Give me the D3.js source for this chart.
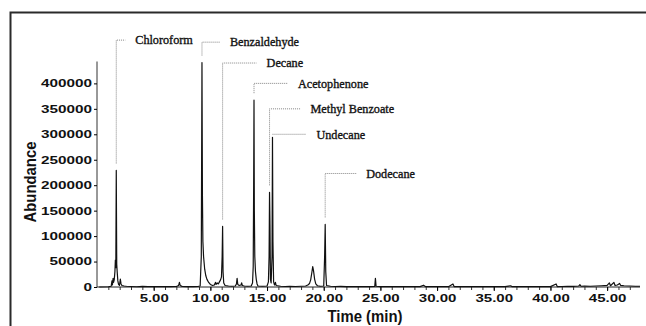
<!DOCTYPE html>
<html>
<head>
<meta charset="utf-8">
<script src="https://cdn.jsdelivr.net/npm/d3@7"></script>
<style>
  html, body { margin: 0; padding: 0; background: #fff; }
  svg { display: block; }
</style>
</head>
<body>
<svg id="chart" width="646" height="326"></svg>
<script>
// ---- Data ----
const times = [
  0.2, 1.0, 1.25, 1.32, 1.36, 1.42, 1.46, 1.52, 1.58, 1.62, 1.66, 1.70, 1.74, 1.78, 1.84, 1.90, 1.98, 2.06, 2.12, 2.2, 2.4, 2.6,
  3.0, 3.5, 4.0, 4.5, 5.0, 5.6, 6.0, 6.5, 7.0, 7.2, 7.27, 7.34, 7.5, 8.0, 8.5, 8.9, 9.1,
  9.2, 9.26, 9.30, 9.34, 9.4, 9.5, 9.6, 9.7, 9.85, 10.0, 10.2, 10.35, 10.45, 10.5, 10.6, 10.7, 10.8, 10.9, 10.98,
  11.04, 11.08, 11.12, 11.18, 11.3, 11.6, 11.9, 12.2, 12.3, 12.36, 12.42, 12.55, 12.7, 12.76, 12.82, 13.0, 13.3, 13.6,
  13.72, 13.78, 13.82, 13.85, 13.88, 13.92, 13.98, 14.05, 14.12, 14.2, 14.6, 15.0, 15.12, 15.18, 15.22, 15.26, 15.3,
  15.36, 15.44, 15.48, 15.52, 15.58, 15.66, 15.74, 15.8, 16.2, 16.6, 17.0, 17.5, 18.0, 18.4, 18.6, 18.75, 18.85, 18.95,
  19.03, 19.1, 19.2, 19.3, 19.45, 19.7, 20.0, 20.08, 20.13, 20.18, 20.25, 20.6, 21.0, 21.5, 22, 22.5, 23, 23.5, 24, 24.5,
  24.56, 24.62, 25.0, 25.5, 26, 26.5, 27, 27.5, 28, 28.5, 28.8, 29.0, 29.5, 30, 30.5, 31, 31.4, 31.5, 32, 32.5, 33, 33.5,
  34, 34.5, 35, 35.5, 36, 36.5, 36.6, 37, 37.5, 38, 38.5, 39, 39.5, 40, 40.5, 40.6, 41, 41.5, 42, 42.5, 42.6, 42.7, 43,
  43.5, 44, 44.5, 45, 45.2, 45.3, 45.6, 45.7, 45.9, 46.1, 46.2, 46.5, 47, 47.5, 47.9
];
const abundance = [
  0, 500, 1500, 12000, 4000, 17000, 9000, 14000, 30000, 53000, 38000, 229000, 45000, 30000, 12000, 5000, 3000, 15500, 6000, 3000, 2000, 1500,
  1000, 500, 1200, 800, 600, 1000, 700, 900, 1000, 3000, 9000, 3000, 1200, 900, 800, 1000, 2000,
  60000, 441000, 180000, 90000, 60000, 35000, 22000, 15000, 9000, 5000, 3000, 4000, 9000, 5000, 8000, 6000, 10000, 14000, 20000,
  60000, 119000, 30000, 8000, 3000, 2000, 1500, 2000, 6000, 17000, 5000, 3000, 4000, 8000, 3000, 2000, 1500, 2000,
  8000, 40000, 200000, 367000, 150000, 60000, 30000, 15000, 6000, 2000, 1500, 2000, 10000, 60000, 186000, 120000, 15000,
  8000, 60000, 294000, 90000, 10000, 4000, 9000, 3000, 1500, 1000, 1500, 1000, 1500, 2000, 4000, 7000, 14000, 28000,
  40000, 32000, 15000, 6000, 2500, 1500, 2000, 60000, 123000, 30000, 3000, 1500, 1000, 1200, 800, 1000, 700, 900, 800, 1000,
  17000, 1500, 800, 600, 800, 700, 900, 600, 800, 700, 3500, 700, 800, 600, 800, 700, 6000, 800, 700, 900, 600, 800,
  700, 800, 600, 900, 700, 2500, 700, 800, 700, 900, 700, 800, 700, 800, 6000, 900, 1000, 1500, 1200, 2000, 4500, 1500, 1800,
  1500, 2000, 2500, 3000, 8000, 2500, 9000, 3000, 4000, 7000, 3000, 2500, 2000, 1500, 1500
];
// Peak annotations
const peakNames  = ["Chloroform", "Benzaldehyde", "Decane", "Acetophenone", "Methyl Benzoate", "Undecane", "Dodecane"];
const peakTimes  = [1.70, 9.26, 11.08, 13.85, 15.22, 15.48, 20.13];
const peakHeights = [229000, 441000, 119000, 367000, 186000, 294000, 123000];
const labelLevels = [485000, 481000, 440000, 400000, 350000, 300000, 223000];

const xTicks = [5, 10, 15, 20, 25, 30, 35, 40, 45];
const yTicks = [0, 50000, 100000, 150000, 200000, 250000, 300000, 350000, 400000];
const xTitle = "Time (min)";
const yTitle = "Abundance";

// ---- Layout ----
const svg = d3.select("#chart");
const x = d3.scaleLinear().domain([0, 47.9]).range([97, 640]);
const y = d3.scaleLinear().domain([0, 443000]).range([287, 61.5]);

// Frame (extends beyond right/bottom edges)
svg.append("rect")
  .attr("x", 10.5).attr("y", 12.5).attr("width", 700).attr("height", 400)
  .attr("fill", "none").attr("stroke", "#2a2a2a").attr("stroke-width", 2);

function stretchLabels(sel) {
  sel.selectAll(".tick text").each(function() {
    const t = d3.select(this).text();
    const nd = t.replace(/[^0-9]/g, "").length;
    const np = t.length - nd;
    d3.select(this).attr("textLength", nd * 8.5 + np * 3.6).attr("lengthAdjust", "spacingAndGlyphs");
  });
}

// X axis: minor ticks
const minorX = d3.range(1, 48);
const gx = svg.append("g").attr("transform", "translate(0,287)");
gx.call(d3.axisBottom(x).tickValues(minorX).tickSize(3).tickFormat(""));
gx.selectAll(".domain").remove();
gx.selectAll("line").attr("stroke", "#333");
const gx2 = svg.append("g").attr("transform", "translate(0,287)");
gx2.call(d3.axisBottom(x).tickValues(xTicks).tickSize(4).tickPadding(4).tickFormat(d3.format(".2f")));
gx2.select(".domain").attr("stroke", "#222").attr("d", `M${x.range()[0]},0H${x.range()[1]}`);
gx2.selectAll("text").attr("font-family", "Liberation Sans, Arial, sans-serif")
  .attr("font-weight", "bold").attr("font-size", 10.5).attr("fill", "#111");
stretchLabels(gx2);

// Y axis
const gy = svg.append("g").attr("transform", "translate(97,0)");
gy.call(d3.axisLeft(y).tickValues(yTicks).tickSize(3).tickPadding(2).tickFormat(d => String(d)));
gy.select(".domain").attr("stroke", "#333").attr("d", `M0,${y.range()[0]}V${y.range()[1]}`);
gy.selectAll("text").attr("font-family", "Liberation Sans, Arial, sans-serif")
  .attr("font-weight", "bold").attr("font-size", 10.5).attr("fill", "#111");
stretchLabels(gy);

// Axis titles
svg.append("text")
  .attr("transform", "translate(36,182) rotate(-90)")
  .attr("text-anchor", "middle")
  .attr("font-family", "Liberation Sans, Arial, sans-serif").attr("font-weight", "bold")
  .attr("font-size", 16).attr("fill", "#111")
  .attr("textLength", 81).attr("lengthAdjust", "spacingAndGlyphs")
  .text(yTitle);
svg.append("text")
  .attr("x", 365).attr("y", 322)
  .attr("text-anchor", "middle")
  .attr("font-family", "Liberation Sans, Arial, sans-serif").attr("font-weight", "bold")
  .attr("font-size", 16).attr("fill", "#111")
  .attr("textLength", 75).attr("lengthAdjust", "spacingAndGlyphs")
  .text(xTitle);

// Chromatogram trace
const pts = times.map((t, i) => [t, abundance[i]]);
svg.append("path")
  .datum(pts)
  .attr("fill", "none").attr("stroke", "#111").attr("stroke-width", 1.2)
  .attr("stroke-linejoin", "round")
  .attr("d", d3.line().x(d => x(d[0])).y(d => y(d[1])));

// Annotations
const hLen = [9, 18, 34, 34, 31, 34, 31];
const ann = svg.append("g");
peakNames.forEach((name, i) => {
  const px = x(peakTimes[i]);
  const ly = y(labelLevels[i]);
  const py = Math.max(ly, y(peakHeights[i]) - 7);
  ann.append("path")
    .attr("d", `M${px},${py}V${ly}H${px + hLen[i]}`)
    .attr("fill", "none").attr("stroke", "#777").attr("stroke-width", 0.9)
    .attr("stroke-dasharray", "1,1");
  ann.append("text")
    .attr("x", px + hLen[i] + 10).attr("y", ly)
    .attr("dy", "0.35em")
    .attr("font-family", "Liberation Serif, Times New Roman, serif")
    .attr("font-size", 12.2).attr("fill", "#111")
    .attr("stroke", "#111").attr("stroke-width", 0.35)
    .text(name);
});
</script>
</body>
</html>
